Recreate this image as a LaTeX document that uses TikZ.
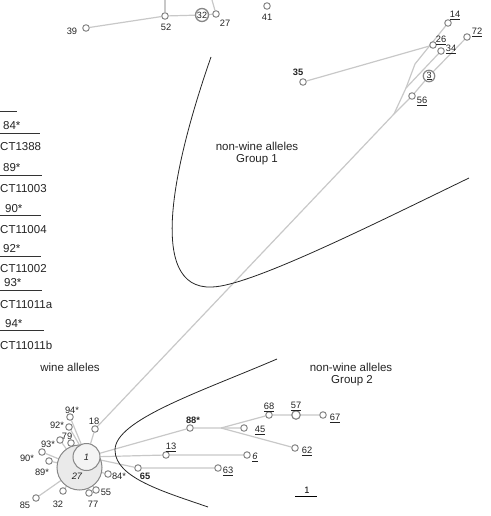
\documentclass[tikz,border=0pt]{standalone}
\usepackage{fontspec}
\setmainfont{Liberation Sans}
\usetikzlibrary{backgrounds}
\definecolor{lineg}{RGB}{200,200,200}
\definecolor{nodeg}{RGB}{135,135,135}
\definecolor{txtc}{RGB}{35,35,35}
\definecolor{fillbig}{RGB}{234,234,234}
\definecolor{fillone}{RGB}{244,244,244}
\begin{document}
\begin{tikzpicture}[x=1pt,y=-1pt,
  edge/.style={draw=lineg,line width=1.2pt},
  nd/.style={circle,draw=nodeg,line width=1pt,fill=white,inner sep=0pt,minimum size=6.5pt},
  lbl/.style={font=\fontsize{9.3}{10}\selectfont,text=txtc,inner sep=0pt,text height=6.7pt,text depth=0pt},
  big/.style={font=\fontsize{11.5}{13}\selectfont,text=txtc,inner sep=0pt},
  bnd/.style={draw=black!85,line width=0.8pt},
  leg/.style={draw=black!80,line width=0.8pt}
]
\useasboundingbox (0,0) rectangle (490,516);
\clip (0,0) rectangle (490,516);

% ---------- left legend fragment ----------
\draw[leg] (0,111) -- (17,111);
\draw[leg] (0,133) -- (40,133);
\draw[leg] (0,175) -- (42,175);
\draw[leg] (0,215) -- (41,215);
\draw[leg] (0,256) -- (41,256);
\draw[leg] (0,290) -- (42,290);
\draw[leg] (0,330) -- (44,330);
\node[big,anchor=west] (l84) at (3,126) {84*};
\node[big,anchor=west] (lct1388) at (0,147) {CT1388};
\node[big,anchor=west] (l89) at (3,168) {89*};
\node[big,anchor=west] (lct3) at (0,189) {CT11003};
\node[big,anchor=west] (l90) at (5,209) {90*};
\node[big,anchor=west] (lct4) at (0,230) {CT11004};
\node[big,anchor=west] (l92) at (3,249) {92*};
\node[big,anchor=west] (lct2) at (0,269) {CT11002};
\node[big,anchor=west] (l93) at (4,283) {93*};
\node[big,anchor=west] (lcta) at (0,305) {CT11011a};
\node[big,anchor=west] (l94) at (5,324) {94*};
\node[big,anchor=west] (lctb) at (0,345) {CT11011b};

% ---------- group titles ----------
\node[big] (tw) at (70,367) {wine alleles};
\node[big] (tg1a) at (257,146) {non-wine alleles};
\node[big] (tg1b) at (257,160) {Group 1};
\node[big] (tg2a) at (351,367) {non-wine alleles};
\node[big] (tg2b) at (352,381) {Group 2};

% ---------- boundaries ----------
\draw[bnd] (211,57) .. controls (175,160) and (145,290) .. (212,287)
  .. controls (250,286) and (370,226) .. (469,178);
\draw[bnd] (277,359) .. controls (200,392) and (115,420) .. (115,450)
  .. controls (115,478) and (165,492) .. (208,507);

% ---------- top cluster ----------
\coordinate (top52) at (165,0);
\coordinate (top27) at (212,0);
\node[nd] (n39) at (86,28) {};
\node[nd] (n52) at (165,16) {};
\node[circle,draw=nodeg,line width=1.3pt,fill=white,inner sep=0pt,minimum size=13pt,font=\fontsize{9}{10}\selectfont,text=txtc] (n32) at (202,15) {32};
\node[nd] (n27t) at (216,14) {};
\node[nd] (n41) at (267,6) {};
\node[lbl] at (72,31) {39};
\node[lbl] at (166,27) {52};
\node[lbl] at (225,23) {27};
\node[lbl] at (267,17) {41};

% ---------- group 1 ----------
\coordinate (J1) at (394,114);
\coordinate (J2) at (406,88);
\coordinate (J3) at (415,64);
\node[nd] (n35) at (303,82) {};
\node[nd] (n26) at (433,45) {};
\node[nd] (n14) at (448,23) {};
\node[nd] (n34) at (441,51) {};
\node[nd] (n56) at (412,96) {};
\node[nd] (n72) at (467,37) {};
\node[circle,draw=nodeg,line width=1.2pt,fill=white,inner sep=0pt,minimum size=11.5pt,font=\fontsize{9}{10}\selectfont,text=txtc] (n3) at (429,76) {\underline{3}};
\node[lbl,font=\fontsize{9.3}{10}\selectfont\bfseries] at (298,72) {35};
\node[lbl] at (455,14) {\underline{14}};
\node[lbl] at (477,31) {\underline{72}};
\node[lbl] at (441,39) {\underline{26}};
\node[lbl] at (451,48) {\underline{34}};
\node[lbl] at (422,100) {\underline{56}};

% ---------- wine cluster ----------
\node[circle,draw=nodeg,line width=1pt,fill=fillbig,minimum size=45pt,inner sep=0pt] (c27) at (79.5,467.5) {};
\node[circle,draw=nodeg,line width=1pt,fill=fillone,minimum size=27pt,inner sep=0pt,font=\fontsize{9.3}{10}\selectfont\itshape,text=txtc] (c1) at (86.5,457) {1};
\node[lbl,font=\fontsize{9.3}{10}\selectfont\itshape] at (77,476) {27};
\node[nd] (n94) at (70,417) {};
\node[nd] (n92) at (69,427) {};
\node[nd] (n18) at (95,429) {};
\node[nd] (n93) at (60,440) {};
\node[nd] (n79) at (71,443) {};
\node[nd] (n90) at (42,452) {};
\node[nd] (n89) at (49,461) {};
\node[nd] (n84) at (108,474) {};
\node[nd] (n55) at (96,490) {};
\node[nd] (n77) at (89,493) {};
\node[nd] (n32w) at (63,491) {};
\node[nd] (n85) at (36,498) {};
\node[lbl] at (72,410) {94*};
\node[lbl] at (57,425) {92*};
\node[lbl] at (94,421) {18};
\node[lbl] at (67,436) {79};
\node[lbl] at (48,444) {93*};
\node[lbl] at (27,458) {90*};
\node[lbl] at (42,472) {89*};
\node[lbl] at (119,476) {84*};
\node[lbl] at (106,492) {55};
\node[lbl] at (93,504) {77};
\node[lbl] at (58,504) {32};
\node[lbl] at (25,505) {85};

% ---------- group 2 ----------
\coordinate (J4) at (221,428);
\node[nd] (n88) at (190,428) {};
\node[nd] (n45) at (244,428) {};
\node[nd] (n68) at (269,415) {};
\node[nd,minimum size=8.5pt,line width=1.2pt] (n57) at (296,415) {};
\node[nd] (n67) at (323,415) {};
\node[nd] (n62) at (295,448) {};
\node[nd] (n13) at (166,455) {};
\node[nd] (n6) at (247,455) {};
\node[nd] (n65) at (138,468) {};
\node[nd] (n63) at (218,468) {};
\node[lbl,font=\fontsize{9.3}{10}\selectfont\bfseries] at (193,420) {88*};
\node[lbl] at (260,429) {\underline{45}};
\node[lbl] at (269,406) {\underline{68}};
\node[lbl] at (296,405) {\underline{57}};
\node[lbl] at (335,417) {\underline{67}};
\node[lbl] at (307,450) {\underline{62}};
\node[lbl] at (171,446) {\underline{13}};
\node[lbl] at (255,456) {\underline{\itshape 6}};
\node[lbl] at (228,470) {\underline{63}};
\node[lbl,font=\fontsize{9.3}{10}\selectfont\bfseries] at (145,476) {65};

% scale bar
\coordinate (sb1) at (295,496);
\coordinate (sb2) at (317,496);
\draw[black,line width=0.9pt] (sb1) -- (sb2);
\node[lbl,text=black] at (307,490) {1};

% ---------- edges (behind nodes) ----------
\begin{scope}[on background layer]
\draw[edge] (top52) -- (n52);
\draw[edge] (n39) -- (n52) -- (n32);
\draw[edge] (top27) -- (n27t);
\draw[edge] (n32) -- (n27t);
\draw[edge] (c1) -- (n18) -- (J1);
\draw[edge] (J1) -- (n56) -- (n3) -- (n72);
\draw[edge] (J1) -- (J2) -- (J3) -- (n14);
\draw[edge] (J2) -- (n34);
\draw[edge] (n35) -- (n26);
\draw[edge] (n94) -- (c1);
\draw[edge] (n92) -- (c1);
\draw[edge] (n79) -- (c1);
\draw[edge] (n93) -- (c27);
\draw[edge] (n90) -- (c27);
\draw[edge] (n89) -- (c27);
\draw[edge] (n85) -- (c27);
\draw[edge] (n32w) -- (c27);
\draw[edge] (n77) -- (c27);
\draw[edge] (n55) -- (c27);
\draw[edge] (n84) -- (c27);
\draw[edge] (c1) -- (n88) -- (J4) -- (n45);
\draw[edge] (J4) -- (n68) -- (n57) -- (n67);
\draw[edge] (J4) -- (n62);
\draw[edge] (c1) -- (n13) -- (n6);
\draw[edge] (c1) -- (n65) -- (n63);
\end{scope}
\end{tikzpicture}
\end{document}
